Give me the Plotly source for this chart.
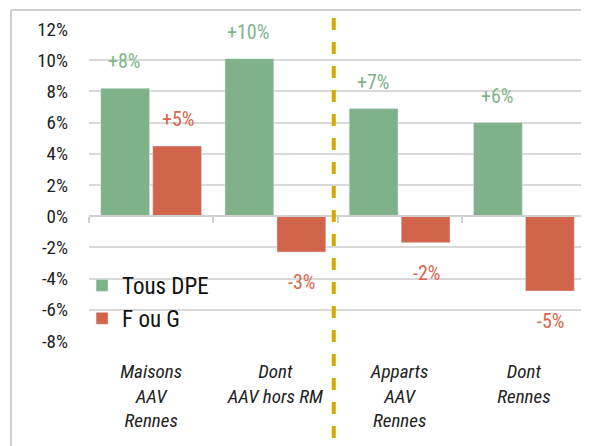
import plotly.graph_objects as go

categories = ["<i>Maisons<br>AAV<br>Rennes</i>", "<i>Dont<br>AAV hors RM</i>",
              "<i>Apparts<br>AAV<br>Rennes</i>", "<i>Dont<br>Rennes</i>"]
tous_dpe = [8.2, 10.1, 6.9, 6.0]
f_ou_g = [4.5, -2.3, -1.7, -4.8]
tous_labels = ["+8%", "+10%", "+7%", "+6%"]
fg_labels = ["+5%", "-3%", "-2%", "-5%"]
y_ticks = [-8, -6, -4, -2, 0, 2, 4, 6, 8, 10, 12]
y_tick_text = [f"{v}%" for v in y_ticks]

GREEN = "#7fb289"
RED = "#d2644b"
GREEN_TXT = "#7fb48a"
RED_TXT = "#d9674c"
FONT = "Roboto Condensed, Roboto, sans-serif"

fig = go.Figure()
fig.add_trace(go.Bar(name="Tous DPE", x=categories, y=tous_dpe, marker_color=GREEN))
fig.add_trace(go.Bar(name="F ou G", x=categories, y=f_ou_g, marker_color=RED))
# helper trace for zero-line axis with boundary ticks
fig.add_trace(go.Scatter(x=categories, y=[None]*len(categories), xaxis="x2",
                         showlegend=False, hoverinfo="skip"))

OFF = 0.217
ann = []
for i, (v, t) in enumerate(zip(tous_dpe, tous_labels)):
    ann.append(dict(x=i - OFF, y=v, xref="x", yref="y", text=t, showarrow=False,
                    yanchor="middle", yshift=27 if v >= 0 else -30,
                    font=dict(family=FONT, size=20, color=GREEN_TXT, weight=400)))
for i, (v, t) in enumerate(zip(f_ou_g, fg_labels)):
    ann.append(dict(x=i + OFF, y=v, xref="x", yref="y", text=t, showarrow=False,
                    yanchor="middle", yshift=27 if v >= 0 else -30,
                    font=dict(family=FONT, size=20, color=RED_TXT, weight=400)))

ymin, ymax = y_ticks[0], y_ticks[-1]
zero_pos = (0 - ymin) / (ymax - ymin)

fig.update_layout(
    width=581, height=438,
    margin=dict(l=81, r=3, t=21, b=105),
    paper_bgcolor="white", plot_bgcolor="white",
    barmode="group", bargap=0.163, bargroupgap=0.06,
    font=dict(family=FONT, color="#333333"),
    showlegend=True,
    legend=dict(x=-0.014, y=0.247, xanchor="left", yanchor="top",
                bgcolor="rgba(0,0,0,0)",
                font=dict(family=FONT, size=23, color="#111111", weight=400),
                itemwidth=30, tracegroupgap=0),
    xaxis=dict(showgrid=False, showline=False, ticks="",
               tickfont=dict(family=FONT, size=19, color="#222222", weight=400),
               ticklabelstandoff=17),
    xaxis2=dict(overlaying="x", matches="x", anchor="free", position=zero_pos,
                showline=True, linecolor="#d0d0d0", linewidth=1.5, ticks="outside",
                tickson="boundaries", ticklen=6, tickcolor="#d0d0d0", tickwidth=1.5,
                showticklabels=False, showgrid=False),
    yaxis=dict(range=[ymin, ymax], tickvals=y_ticks, ticktext=y_tick_text,
               showgrid=True, gridcolor="#d9d9d9", gridwidth=1.5, zeroline=False,
               tickfont=dict(family=FONT, size=19, color="#222222", weight=400),
               ticklabelstandoff=20),
    annotations=ann,
    shapes=[
        dict(type="line", xref="x", yref="paper", x0=1.47, x1=1.47, y0=-0.311, y1=1.061,
             line=dict(color="#d4aa00", width=4, dash="dash")),
        dict(type="line", xref="paper", yref="paper", x0=-0.157, x1=-0.157, y0=-0.34, y1=1.061,
             line=dict(color="#c0c0c0", width=1.5)),
        dict(type="line", xref="paper", yref="paper", x0=-0.157, x1=1.01, y0=1.061, y1=1.061,
             line=dict(color="#c0c0c0", width=1.5)),
    ],
)

fig.write_html("out.html")
